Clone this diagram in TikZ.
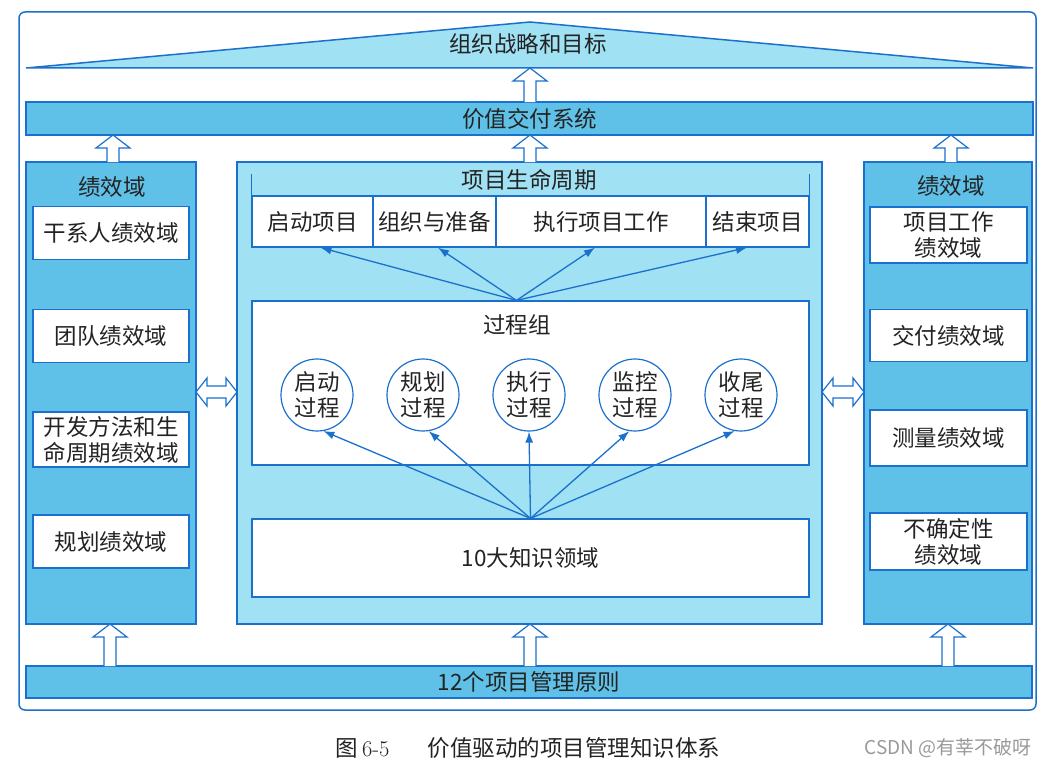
\documentclass[tikz,border=0pt]{standalone}
\usepackage{fontspec}
\newfontfamily\cjk{Noto Sans CJK SC}
\usetikzlibrary{calc,arrows.meta}
\definecolor{lineblue}{RGB}{28,112,205}
\definecolor{midblue}{RGB}{96,193,232}
\definecolor{lightblue}{RGB}{160,225,243}
\definecolor{txt}{RGB}{35,35,35}
\newcommand\holup[3]{\draw[hollow] (#1-6,#2) -- (#1-6,#3+13) -- (#1-17,#3+13) -- (#1,#3) -- (#1+17,#3+13) -- (#1+6,#3+13) -- (#1+6,#2);}
\newcommand\holdbl[3]{\draw[hollow] (#1,#3) -- (#1+11,#3-14) -- (#1+11,#3-6) -- (#2-11,#3-6) -- (#2-11,#3-14) -- (#2,#3) -- (#2-11,#3+14) -- (#2-11,#3+6) -- (#1+11,#3+6) -- (#1+11,#3+14) -- cycle;}

\begin{document}
\begin{tikzpicture}[x=1pt,y=-1pt,
  lbl/.style={font=\cjk\fontsize{22.5}{26}\selectfont,text=txt,align=center},
  box/.style={lbl,draw=lineblue,line width=1.2pt,fill=white,inner sep=0pt},
  panel/.style={lbl,draw=lineblue,line width=1.6pt,inner sep=0pt},
  circ/.style={lbl,circle,draw=lineblue,line width=1.2pt,fill=white,minimum size=72pt,inner sep=0pt},
  arr/.style={draw=lineblue,line width=1.3pt,-{Latex[length=11pt,width=8pt]}},
  hollow/.style={draw=lineblue,line width=1.2pt,fill=white,line join=miter}]
\useasboundingbox (0,0) rectangle (1049,768);

\draw[lineblue,line width=1.5pt,rounded corners=6pt] (19,12) rectangle (1036,710);
\draw[lineblue,line width=1.5pt,fill=lightblue] (26,68) -- (530,22) -- (1033,68) -- cycle;
\node[lbl] at (528,44) (goal) {组织战略和目标};

\node[panel,fill=midblue,minimum width=1007pt,minimum height=33pt] at (529.5,118.5) (vds) {价值交付系统};
\node[panel,fill=midblue,minimum width=170pt,minimum height=462pt] at (111,393) (lp) {};
\node[panel,fill=lightblue,minimum width=585pt,minimum height=462pt] at (529.5,393) (cp) {};
\node[panel,fill=midblue,minimum width=168pt,minimum height=462pt] at (948,393) (rp) {};
\node[panel,fill=midblue,minimum width=1006pt,minimum height=32pt] at (529,682) (pr) {12个项目管理原则};

\node[lbl] at (112,187) (lh) {绩效域};
\node[box,minimum width=156pt,minimum height=53pt] at (111,233) (l1) {干系人绩效域};
\node[box,minimum width=156pt,minimum height=53pt] at (111,336) (l2) {团队绩效域};
\node[box,minimum width=156pt,minimum height=55pt] at (111,439.5) (l3) {开发方法和生\\命周期绩效域};
\node[box,minimum width=156pt,minimum height=53pt] at (111,541.5) (l4) {规划绩效域};

\node[lbl] at (951,186) (rh) {绩效域};
\node[box,minimum width=157pt,minimum height=56pt] at (948.5,235) (r1) {项目工作\\绩效域};
\node[box,minimum width=157pt,minimum height=52pt] at (948.5,335.5) (r2) {交付绩效域};
\node[box,minimum width=157pt,minimum height=56pt] at (948.5,438) (r3) {测量绩效域};
\node[box,minimum width=157pt,minimum height=57pt] at (948.5,541.5) (r4) {不确定性\\绩效域};

\node[lbl] at (529,180) (lc) {项目生命周期};
\node[box,minimum width=121pt,minimum height=51pt] at (312.5,221.5) (s1) {启动项目};
\node[box,minimum width=123pt,minimum height=51pt] at (434.5,221.5) (s2) {组织与准备};
\node[box,minimum width=210pt,minimum height=51pt] at (601,221.5) (s3) {执行项目工作};
\node[box,minimum width=103pt,minimum height=51pt] at (757.5,221.5) (s4) {结束项目};
\draw[lineblue,line width=1.2pt] ($(s1.north west)+(0,-21)$) -- (s1.north west) -- (s4.north east) -- ++(0,-21);

\node[box,minimum width=557pt,minimum height=164pt] at (530.5,383) (pg) {};
\node[lbl] at (517,325) (pgl) {过程组};
\node[circ] at (317,395) (c1) {启动\\过程};
\node[circ] at (423,395) (c2) {规划\\过程};
\node[circ] at (529,395) (c3) {执行\\过程};
\node[circ] at (635,395) (c4) {监控\\过程};
\node[circ] at (741,395) (c5) {收尾\\过程};
\node[box,minimum width=557pt,minimum height=78pt] at (530.5,558) (kb) {10大知识领域};

\coordinate (pgtop) at ($(pg.north)+(-14,0)$);
\draw[arr] (pgtop) -- ($(s1.south)+(8,0)$);
\draw[arr] (pgtop) -- ($(s2.south)+(3.5,0)$);
\draw[arr] (pgtop) -- ($(s3.south)+(-6,0)$);
\draw[arr] (pgtop) -- ($(s4.south)+(-10.5,0)$);
\foreach \c/\a in {c1/-80,c2/-81,c3/-90,c4/-99,c5/-100}
  \draw[arr] (kb.north) -- (\c.\a);

\holup{530}{102}{68}
\holup{530}{162}{135}
\holup{113}{162}{135}
\holup{951}{162}{135}
\holup{110}{666}{624}
\holup{530}{666}{624}
\holup{948}{666}{624}
\holdbl{196}{237}{392}
\holdbl{822}{864}{392}

\node[font=\cjk\fontsize{22.5}{26}\selectfont,text=txt] at (528,748) (cap) {图\,{\rmfamily 6-5}\hspace{1.7em}价值驱动的项目管理知识体系};
\node[font=\cjk\fontsize{19}{22}\selectfont,text=black!40] at (948,748) (wm) {CSDN @有莘不破呀};
\end{tikzpicture}
\end{document}
